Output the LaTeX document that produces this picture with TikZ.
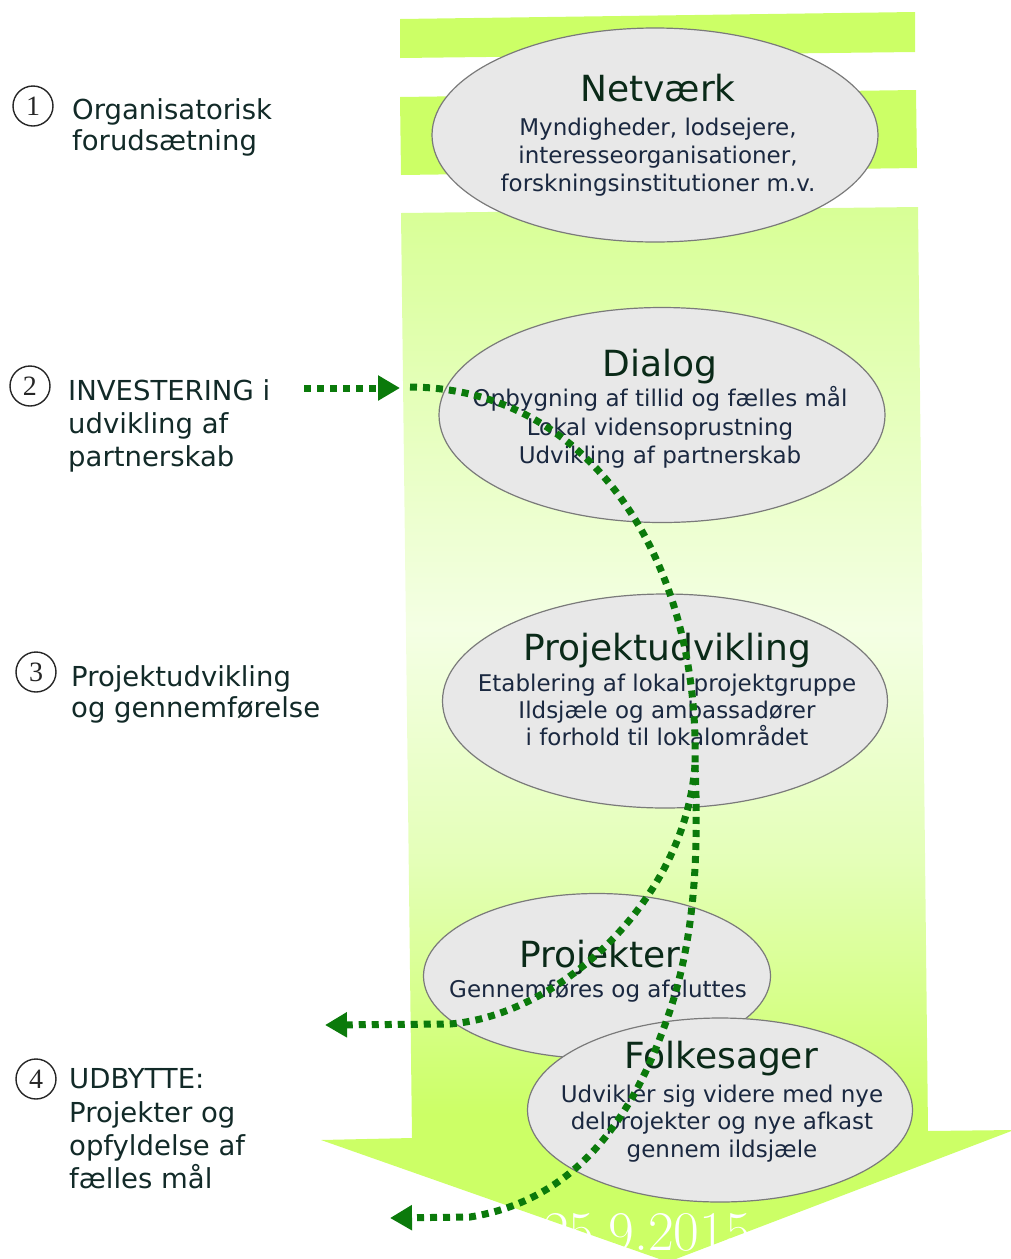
\documentclass[tikz,border=0pt]{standalone}
\usepackage{fontspec}
\newfontfamily\dv{DejaVu Sans}
\newfontfamily\lser{Liberation Serif}
\usetikzlibrary{shapes.geometric,arrows.meta}
\definecolor{barG}{HTML}{CCFF66}
\definecolor{topG}{HTML}{D8FF96}
\definecolor{paleG}{HTML}{F4FFE4}
\definecolor{midG}{HTML}{E4FFB8}
\definecolor{dotG}{HTML}{0B7A0B}
\definecolor{ellF}{HTML}{E8E8E8}
\definecolor{ellD}{HTML}{7A7A7A}
\definecolor{ttl}{HTML}{0A2A18}
\definecolor{subc}{HTML}{1A2840}
\definecolor{lbl}{HTML}{122A28}
\pgfdeclareverticalshading{bodyshade}{100bp}{color(0bp)=(barG); color(25bp)=(barG); color(32bp)=(barG); color(44bp)=(midG); color(55bp)=(paleG); color(75bp)=(topG); color(100bp)=(topG)}
\tikzset{
  ell/.style={ellipse, draw=ellD, fill=ellF, line width=1.2pt, inner sep=0pt},
  ttlf/.style={anchor=base, inner sep=0pt, text=ttl, font=\dv\fontsize{36}{40}\selectfont},
  subf/.style={anchor=base, inner sep=0pt, text=subc, font=\dv\fontsize{23}{28}\selectfont},
  lblf/.style={anchor=base west, inner sep=0pt, text=lbl, font=\dv\fontsize{27.5}{33}\selectfont},
  numc/.style={circle, draw=black!85, line width=1.4pt, minimum size=40pt, inner sep=0pt, text=black!85, font=\lser\fontsize{28}{30}\selectfont},
  dotline/.style={draw=dotG, line width=7pt, dash pattern=on 7pt off 6pt},
  tipend/.style={-{Triangle[length=22pt,width=24pt]}}
}
\begin{document}
\begin{tikzpicture}[x=1pt,y=-1pt]
\useasboundingbox (0,0) rectangle (1010,1259);
% big green arrow
\fill[barG] (400,19) -- (915,12) -- (915,52) -- (400,58) -- cycle;
\fill[barG] (400,97) -- (916,90) -- (917,168) -- (401,175) -- cycle;
\shade[shading=bodyshade] (401,213) -- (918,207) -- (928,1131) -- (1014,1130) -- (668,1262) -- (321,1140) -- (412,1138) -- cycle;
% date
\node[anchor=base, inner sep=0pt, text=white, font=\fontsize{56}{60}\selectfont] (date) at (647,1250) {25.9.2015};
% ellipses
\node[ell, minimum width=446pt, minimum height=214pt] (netv) at (655,135) {};
\node[ell, minimum width=446pt, minimum height=215pt] (dial) at (662,415) {};
\node[ell, minimum width=445pt, minimum height=214pt] (proj) at (665,701) {};
\node[ell, minimum width=347pt, minimum height=165pt] (pjkt) at (597,976) {};
\node[ell, minimum width=385pt, minimum height=184pt] (folk) at (720,1110) {};
% ellipse texts
\node[ttlf] (netvT) at (658,101) {Netværk};
\node[subf] (netvA) at (658,135) {Myndigheder, lodsejere,};
\node[subf] (netvB) at (658,163) {interesseorganisationer,};
\node[subf] (netvC) at (658,191) {forskningsinstitutioner m.v.};
\node[ttlf] (dialT) at (660,376) {Dialog};
\node[subf] (dialA) at (660,406) {Opbygning af tillid og fælles mål};
\node[subf] (dialB) at (660,435) {Lokal vidensoprustning};
\node[subf] (dialC) at (660,463) {Udvikling af partnerskab};
\node[ttlf] (projT) at (667,660) {Projektudvikling};
\node[subf] (projA) at (667,691) {Etablering af lokal projektgruppe};
\node[subf] (projB) at (667,718) {Ildsjæle og ambassadører};
\node[subf] (projC) at (667,745) {i forhold til lokalområdet};
\node[ttlf] (pjktT) at (600,967) {Projekter};
\node[subf] (pjktA) at (598,997) {Gennemføres og afsluttes};
\node[ttlf] (folkT) at (721,1068) {Folkesager};
\node[subf] (folkA) at (722,1102) {Udvikler sig videre med nye};
\node[subf] (folkB) at (722,1129) {delprojekter og nye afkast};
\node[subf] (folkC) at (722,1157) {gennem ildsjæle};
% left labels
\node[numc] (c1) at (33,106) {1};
\node[lblf] (l1a) at (72,119) {Organisatorisk};
\node[lblf] (l1b) at (72,150) {forudsætning};
\node[numc] (c2) at (30,386) {2};
\node[lblf] (l2a) at (68,400) {INVESTERING i};
\node[lblf] (l2b) at (68,433) {udvikling af};
\node[lblf] (l2c) at (68,466) {partnerskab};
\node[numc] (c3) at (36,672) {3};
\node[lblf] (l3a) at (71,686) {Projektudvikling};
\node[lblf] (l3b) at (71,717) {og gennemførelse};
\node[numc] (c4) at (36,1079) {4};
\node[lblf] (l4a) at (69,1088) {UDBYTTE:};
\node[lblf] (l4b) at (69,1122) {Projekter og};
\node[lblf] (l4c) at (69,1155) {opfyldelse af};
\node[lblf] (l4d) at (69,1188) {fælles mål};
% dotted connectors
\coordinate (a1s) at (304,388);
\coordinate (a1e) at (400,388);
\coordinate (cs) at (410,387);
\coordinate (split) at (695,765);
\coordinate (a2e) at (325,1025);
\coordinate (a3e) at (390,1218);
\draw[dotline, tipend] (a1s) -- (a1e);
\draw[dotline] (cs) .. controls (590,388) and (700,560) .. (split);
\draw[dotline, tipend] (split) .. controls (685,900) and (560,1015) .. (450,1024) -- (a2e);
\draw[dotline, tipend] (split) .. controls (700,880) and (690,960) .. (663,1030) .. controls (630,1120) and (575,1200) .. (470,1217) -- (a3e);
\end{tikzpicture}
\end{document}
